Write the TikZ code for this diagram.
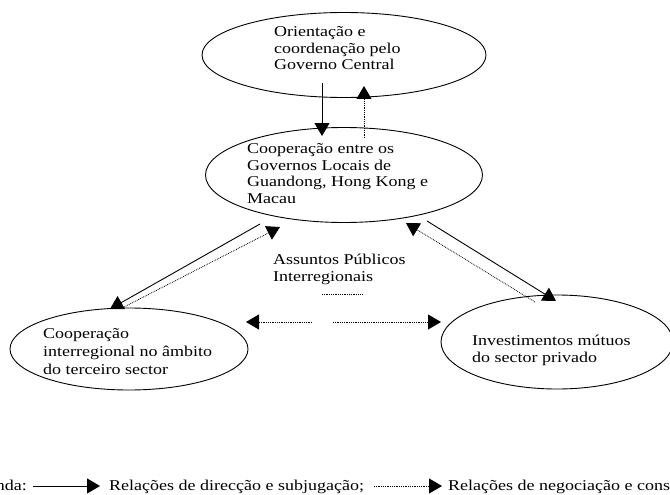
\documentclass[tikz,border=0pt]{standalone}
\usepackage{fontspec}
\setmainfont{Liberation Serif}[FakeStretch=1.2]
\usetikzlibrary{shapes.geometric,arrows.meta}
\begin{document}
\begin{tikzpicture}[x=1pt,y=-1pt,
  oval/.style={draw,ellipse,line width=0.9pt,inner sep=0pt},
  lbl/.style={anchor=base west,align=left,inner sep=0pt,font=\fontsize{15}{16.5}\selectfont},
  solidarr/.style={line width=0.9pt,-{Triangle[length=13pt,width=15pt]}},
  dotarr/.style={line width=0.8pt,dash pattern=on 0.8pt off 1pt,-{Triangle[length=13pt,width=15pt]}},
  dotln/.style={line width=0.8pt,dash pattern=on 0.8pt off 1pt}]
\useasboundingbox (0,0) rectangle (670,495);
\clip (0,0) rectangle (670,495);
% ellipses
\node[oval,minimum width=284pt,minimum height=85pt] (top) at (344,55) {};
\node[oval,minimum width=277pt,minimum height=95pt] (mid) at (344,175) {};
\node[oval,minimum width=238pt,minimum height=82pt] (left) at (129,349) {};
\node[oval,minimum width=232pt,minimum height=94pt] (right) at (557,342) {};
% texts (anchor = baseline of last line)
\node[lbl] (ttop) at (274,70) {Orientação e\\coordenação pelo\\Governo Central};
\node[lbl] (tmid) at (247,203) {Cooperação entre os\\Governos Locais de\\Guandong, Hong Kong e\\Macau};
\node[lbl,font=\fontsize{15}{18}\selectfont] (tleft) at (43,374) {Cooperação\\interregional no âmbito\\do terceiro sector};
\node[lbl] (tright) at (472,362) {Investimentos mútuos\\do sector privado};
\node[lbl] (tcen) at (273,281) {Assuntos Públicos\\Interregionais};
% coordinates
\coordinate (a1) at (322,83);
\coordinate (a2) at (322,136);
\coordinate (b1) at (364,138);
\coordinate (b2) at (364,86);
\coordinate (c1) at (260,224);
\coordinate (c2) at (110,309);
\coordinate (d1) at (124,307);
\coordinate (d2) at (280,227);
\coordinate (e1) at (427,221);
\coordinate (e2) at (556,301);
\coordinate (f1) at (535,302);
\coordinate (f2) at (406,223);
\coordinate (g1) at (312,322);
\coordinate (g2) at (246,322);
\coordinate (h1) at (333,322);
\coordinate (h2) at (441,322);
\coordinate (u1) at (322,294);
\coordinate (u2) at (363,294);
% arrows
\draw[solidarr] (a1) -- (a2);
\draw[dotarr] (b1) -- (b2);
\draw[solidarr] (c1) -- (c2);
\draw[dotarr] (d1) -- (d2);
\draw[solidarr] (e1) -- (e2);
\draw[dotarr] (f1) -- (f2);
\draw[dotarr] (g1) -- (g2);
\draw[dotarr] (h1) -- (h2);
\draw[dotln] (u1) -- (u2);
% legend
\node[anchor=base east,inner sep=0pt,font=\fontsize{15}{16.5}\selectfont] (leg) at (27,490) {Legenda:};
\coordinate (l1) at (33,486);
\coordinate (l2) at (100,486);
\coordinate (m1) at (374,486);
\coordinate (m2) at (442,486);
\draw[solidarr] (l1) -- (l2);
\node[anchor=base west,inner sep=0pt,font=\fontsize{15}{16.5}\selectfont] (leg1) at (109,490) {Relações de direcção e subjugação;};
\draw[dotarr] (m1) -- (m2);
\node[anchor=base west,inner sep=0pt,font=\fontsize{15}{16.5}\selectfont] (leg2) at (448,490) {Relações de negociação e consulta};
\end{tikzpicture}
\end{document}
